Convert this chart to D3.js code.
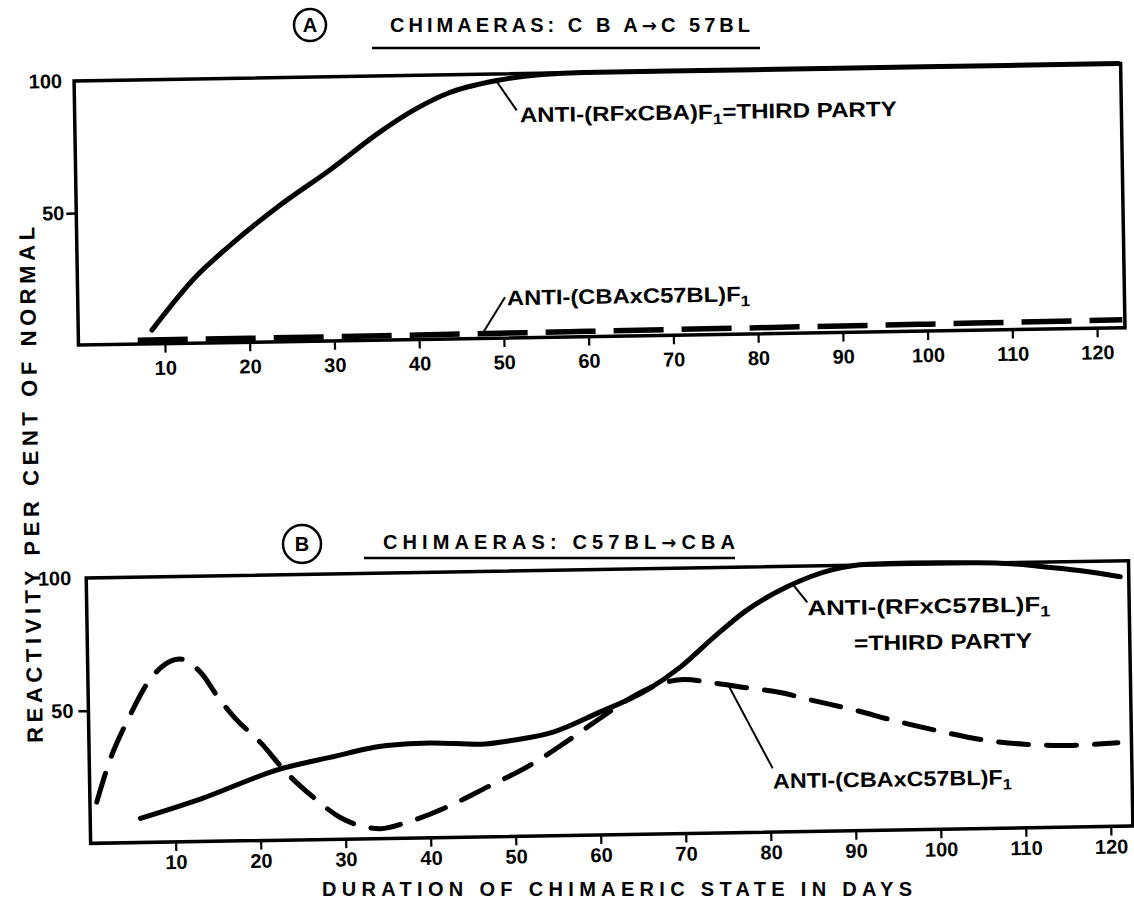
<!DOCTYPE html>
<html><head><meta charset="utf-8">
<script src="https://cdn.jsdelivr.net/npm/d3@7"></script>
<style>
html,body{margin:0;padding:0;background:#fff;}
svg{display:block;}
text{font-family:"Liberation Sans",Arial,sans-serif;font-weight:bold;fill:#000;}
</style></head><body>
<svg id="c" width="1134" height="904"></svg>
<script>
// ---------------- data ----------------
const xTicks = [10,20,30,40,50,60,70,80,90,100,110,120];
const yTicks = [50,100];

// Panel A: chimaeras CBA -> C57BL
const daysA_third = [8.5,13.8,17.7,23.6,29.8,35.8,39.8,43.8,49.7,55,60,70,80,90,100,110,123];
const valsA_third = [5.2,25.2,36.3,51.1,64.7,78.8,86.8,92.9,97.5,99.5,100,100,100,100,100,100,100];
const daysA_host  = [6.8,20,40,60,80,100,123];
const valsA_host  = [1.5,1.5,1.7,2.0,2.3,2.6,3.0];

// Panel B: chimaeras C57BL -> CBA
const daysB_third = [5.9,13,22.4,28.3,35,40.1,46,49.9,54.7,59.8,65.8,69.8,73.6,77.5,82.4,87.8,92,97,102,107,112,117,121.6];
const valsB_third = [9.1,16,26.8,30.9,35,35.7,34.9,36.2,39.1,45.8,54.4,63,73.5,83.5,92.3,98.5,100.3,100.5,100.3,100,98.5,96.5,94];
const daysB_host  = [0.8,2.5,4.7,7.2,8.8,10.8,13.4,15.3,17.2,20.3,23,26.3,29.4,31.7,34.1,37.3,42,46.8,51.9,55.9,59.9,63.8,67.7,70.1,73.6,77.5,81.4,85,90,95,100,105,110,115,121];
const valsB_host  = [15.5,31.8,46.8,60.9,66.3,68.9,63.2,54.1,46.4,36.5,26,15.9,8.2,5.0,3.7,6.0,11.5,18.8,26.8,34.8,43.4,51.4,56.9,58.0,56.5,54.5,52.5,49.5,45.5,41,37,33.5,31.5,30.8,31.5];

const titleA = ["CHIMAERAS: C B A","\u2192","C 57BL"];
const titleB = ["CHIMAERAS: C57BL","\u2192","CBA"];
const yTitle = "REACTIVITY  PER  CENT  OF  NORMAL";
const xTitle = "DURATION  OF  CHIMAERIC  STATE  IN  DAYS";
const lblA_third = ["ANTI-(RFxCBA)F","1","=THIRD  PARTY"];
const lblA_host  = ["ANTI-(CBAxC57BL)F","1"];
const lblB_third = ["ANTI-(RFxC57BL)F","1","=THIRD  PARTY"];
const lblB_host  = ["ANTI-(CBAxC57BL)F","1"];

// ---------------- drawing ----------------
const svg = d3.select("#c");
const g = svg.append("g").attr("transform","rotate(-0.95,567,452)");
const FONT = "Liberation Sans, Arial, sans-serif";

function zip(a,b){return a.map((d,i)=>[d,b[i]]);}
function valAt(ds,vs,d){return d3.scaleLinear().domain(ds).range(vs)(d);}

function panel(cfg){
  const x = d3.scaleLinear().domain([0,120]).range(cfg.xr);
  const y = d3.scaleLinear().domain([0,100]).range(cfg.yr);
  const pg = g.append("g");
  pg.append("rect")
    .attr("x",x(cfg.xmin)).attr("y",y(100))
    .attr("width",x(cfg.xmax)-x(cfg.xmin)).attr("height",y(0)-y(100))
    .attr("fill","none").attr("stroke","#000").attr("stroke-width",3.5);
  const xa = pg.append("g").attr("transform",`translate(0,${y(0)})`)
    .call(d3.axisBottom(x).tickValues(xTicks).tickSize(9).tickPadding(cfg.xpad).tickFormat(d3.format("d")));
  xa.select(".domain").remove();
  xa.selectAll(".tick line").attr("stroke","#000").attr("stroke-width",2.2);
  xa.selectAll(".tick text").style("font-size","20px").style("font-family",FONT).style("font-weight","bold");
  const ya = pg.append("g").attr("transform",`translate(${x(cfg.xmin)},0)`)
    .call(d3.axisLeft(y).tickValues(yTicks).tickSize(10).tickPadding(cfg.ypad).tickFormat(d3.format("d")));
  ya.select(".domain").remove();
  ya.selectAll(".tick line").attr("stroke","#000").attr("stroke-width",2.5)
    .attr("opacity",d=>d===100?0:1);
  ya.selectAll(".tick text").style("font-size","20px").style("font-family",FONT).style("font-weight","bold");

  const line = d3.line().x(d=>x(d[0])).y(d=>y(d[1])).curve(d3.curveMonotoneX);
  pg.append("path").datum(zip(cfg.thirdD,cfg.thirdV)).attr("d",line)
    .attr("fill","none").attr("stroke","#000").attr("stroke-width",5).attr("stroke-linecap","round");
  pg.append("path").datum(zip(cfg.hostD,cfg.hostV)).attr("d",line)
    .attr("fill","none").attr("stroke","#000").attr("stroke-width",cfg.dashW)
    .attr("stroke-dasharray",cfg.dash).attr("stroke-linecap",cfg.cap);

  cfg.labels.forEach(L=>{
    const px = x(L.day), py = y(L.val);
    const ex = px+L.lead[0], ey = py+L.lead[1];
    pg.append("line").attr("x1",px).attr("y1",py).attr("x2",ex).attr("y2",ey)
      .attr("stroke","#000").attr("stroke-width",2);
    L.lines.forEach(t=>{
      const tx = pg.append("text").attr("x",ex+t.off[0]).attr("y",ey+t.off[1])
        .style("font-size","21px")
        .attr("textLength",t.len).attr("lengthAdjust","spacingAndGlyphs");
      tx.append("tspan").text(t.parts[0]);
      if(t.parts.length>1){
        tx.append("tspan").attr("dy",5).style("font-size","15px").text(t.parts[1]);
        if(t.parts.length>2) tx.append("tspan").attr("dy",-5).text(t.parts[2]);
      }
    });
  });
}

panel({
  xr:[82,1099], yr:[337,72.8], xmin:-0.2, xmax:123.3, ypad:2, xpad:8,
  thirdD:daysA_third, thirdV:valsA_third, hostD:daysA_host, hostV:valsA_host,
  dash:"50,18", dashW:5.5, cap:"butt",
  labels:[
    {day:49.6, val:valAt(daysA_third,valsA_third,49.6), lead:[20,30],
     lines:[{parts:lblA_third, off:[3,12], len:377}]},
    {day:47.5, val:valAt(daysA_host,valsA_host,47.5), lead:[23,-36],
     lines:[{parts:lblA_host, off:[2,8], len:243}]}
  ]
});

panel({
  xr:[84.2,1104.5], yr:[835.4,570], xmin:0, xmax:122.6, ypad:5, xpad:4,
  thirdD:daysB_third, thirdV:valsB_third, hostD:daysB_host, hostV:valsB_host,
  dash:"30,18", dashW:5, cap:"round",
  labels:[
    {day:83.1, val:valAt(daysB_third,valsB_third,83.1), lead:[14,18],
     lines:[{parts:lblB_third.slice(0,2), off:[0,13], len:243},
            {parts:[lblB_third[2]], off:[46,49], len:178}]},
    {day:75.3, val:valAt(daysB_host,valsB_host,75.3), lead:[43,84],
     lines:[{parts:lblB_host, off:[0,20], len:239}]}
  ]
});

// y axis title (rotated with the scan)
g.append("text").attr("transform","translate(38,476) rotate(-90)")
  .attr("text-anchor","middle").style("font-size","22px")
  .attr("textLength",516).attr("lengthAdjust","spacing").text(yTitle);
// x axis title
svg.append("text").attr("x",617).attr("y",896).attr("text-anchor","middle")
  .style("font-size","20px")
  .attr("textLength",590).attr("lengthAdjust","spacing").text(xTitle);

// panel titles
function ptitle(cx,cy,r,letter,tx,ty,tlen,u1,u2,uy,parts){
  svg.append("circle").attr("cx",cx).attr("cy",cy).attr("r",r)
    .attr("fill","none").attr("stroke","#000").attr("stroke-width",2.5);
  svg.append("text").attr("x",cx).attr("y",cy+7).attr("text-anchor","middle")
    .style("font-size","20px").text(letter);
  const t = svg.append("text").attr("x",tx).attr("y",ty).style("font-size","20px")
    .attr("textLength",tlen).attr("lengthAdjust","spacing");
  t.append("tspan").text(parts[0]);
  t.append("tspan").style("font-family","DejaVu Sans").style("font-size","18px").text(parts[1]);
  t.append("tspan").text(parts[2]);
  svg.append("line").attr("x1",u1).attr("x2",u2).attr("y1",uy).attr("y2",uy)
    .attr("stroke","#000").attr("stroke-width",2.5);
}
ptitle(310,25,16,"A",390,32,360,372,760,48,titleA);
ptitle(302,544,19,"B",383,549,352,364,735,558,titleB);
</script>
</body></html>
